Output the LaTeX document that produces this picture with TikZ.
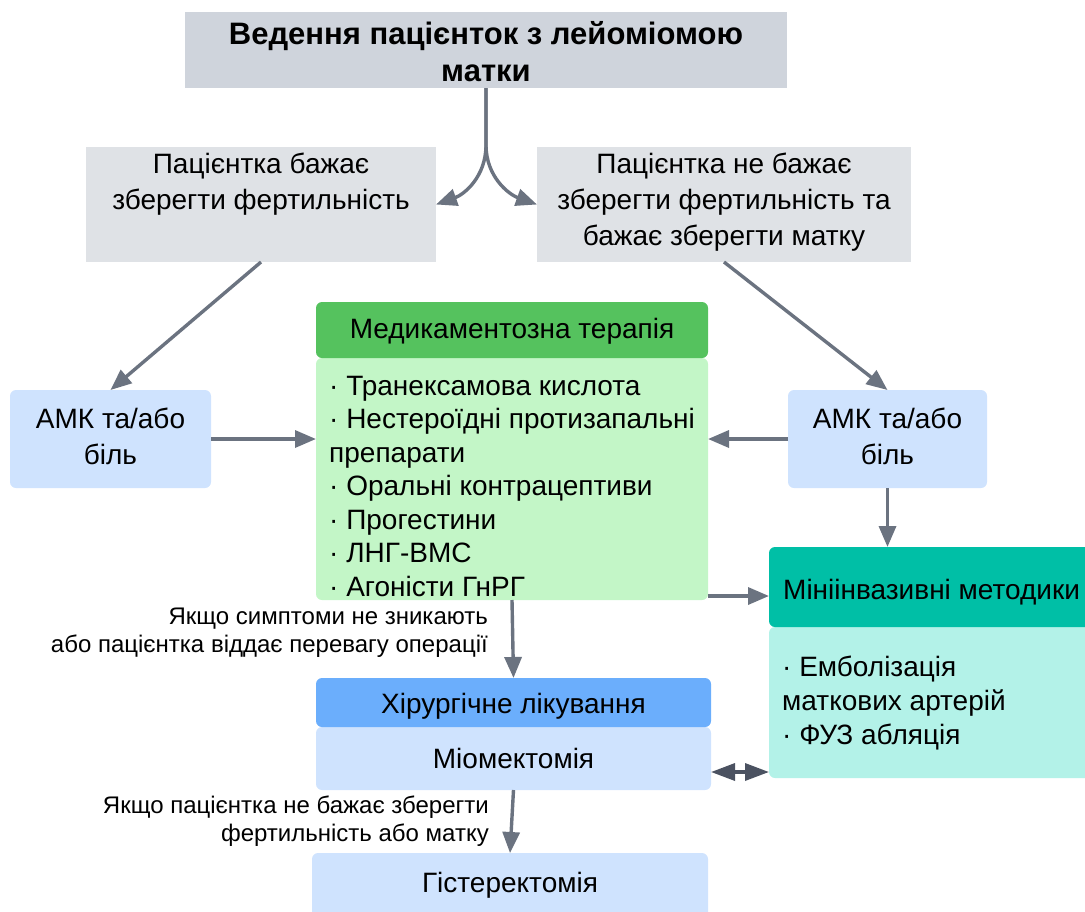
\documentclass[tikz,border=0pt]{standalone}
\usepackage{fontspec}
\setmainfont{Liberation Sans}
\usetikzlibrary{arrows.meta,calc}
\definecolor{arr}{HTML}{6B7380}
\definecolor{darr}{HTML}{4B5261}
\definecolor{titlegray}{HTML}{CFD4DC}
\definecolor{lightgray}{HTML}{DFE2E6}
\definecolor{lblue}{HTML}{CFE3FE}
\definecolor{gHead}{HTML}{55C25E}
\definecolor{gBody}{HTML}{C3F6C7}
\definecolor{tHead}{HTML}{00BFA6}
\definecolor{tBody}{HTML}{B3F2E8}
\definecolor{bHead}{HTML}{6BAEFC}
\tikzset{
  box/.style={draw=none,inner sep=0pt,outer sep=0pt},
  rbox/.style={box,rounded corners=6pt},
  txt/.style={font=\fontsize{28}{36}\selectfont,align=center,inner sep=0pt},
  lst/.style={font=\fontsize{28}{33.5}\selectfont,align=left,inner sep=0pt},
  lbl/.style={font=\fontsize{24}{28}\selectfont,align=right,inner sep=0pt,anchor=east},
  conn/.style={draw=arr,line width=3.4pt,-{Triangle[length=21pt,width=17pt]}},
  dconn/.style={draw=darr,line width=3.4pt,{Triangle[length=24pt,width=17pt]}-{Triangle[length=24pt,width=17pt]}},
}
\begin{document}
\begin{tikzpicture}[x=1pt,y=-1pt]
\useasboundingbox (0,0) rectangle (1085,911);
\begin{scope}
\clip (0,0) rectangle (1085,911);
% title
\node[box,fill=titlegray,minimum width=602pt,minimum height=76pt] (title) at (486,50) {};
\node[txt,font=\fontsize{31}{37}\selectfont\bfseries] (titleT) at (486,52) {Ведення пацієнток з лейоміомою\\матки};
% gray boxes
\node[box,fill=lightgray,minimum width=350pt,minimum height=115pt] (lg) at (261,204.5) {};
\node[txt,anchor=north] (lgT) at (261,153) {Пацієнтка бажає\\зберегти фертильність};
\node[box,fill=lightgray,minimum width=374pt,minimum height=115pt] (rg) at (724,204.5) {};
\node[txt,anchor=north] (rgT) at (724,153) {Пацієнтка не бажає\\зберегти фертильність та\\бажає зберегти матку};
% AMK boxes
\node[rbox,fill=lblue,minimum width=201pt,minimum height=98pt] (amkL) at (110.5,439) {};
\node[txt] (amkLT) at (110.5,436) {АМК та/або\\біль};
\node[rbox,fill=lblue,minimum width=199pt,minimum height=98pt] (amkR) at (887.5,439) {};
\node[txt] (amkRT) at (887.5,436) {АМК та/або\\біль};
% medication
\node[rbox,fill=gBody,minimum width=392pt,minimum height=242pt] (medB) at (512,479) {};
\node[rbox,fill=gHead,minimum width=392pt,minimum height=56pt] (medH) at (512,330) {};
\node[txt] (medHT) at (512,331) {Медикаментозна терапія};
\node[lst,anchor=north west] (medT) at (329,376) {· Транексамова кислота\\· Нестероїдні протизапальні\\препарати\\· Оральні контрацептиви\\· Прогестини\\· ЛНГ-ВМС\\· Агоністи ГнРГ};
% mini-invasive
\node[rbox,fill=tBody,minimum width=326pt,minimum height=151pt] (miniB) at (932,702.5) {};
\node[rbox,fill=tHead,minimum width=326pt,minimum height=80pt] (miniH) at (932,587) {};
\node[txt,anchor=west] (miniHT) at (783,592) {Мініінвазивні методики};
\node[lst,anchor=north west,font=\fontsize{28}{34}\selectfont] (miniT) at (782,656) {· Емболізація\\маткових артерій\\· ФУЗ абляція};
% surgery
\node[rbox,fill=lblue,minimum width=395pt,minimum height=63pt] (surgB) at (513.5,758.5) {};
\node[rbox,fill=bHead,minimum width=395pt,minimum height=49pt] (surgH) at (513.5,702.5) {};
\node[txt] (surgHT) at (513.5,706) {Хірургічне лікування};
\node[txt] (surgBT) at (513.5,758) {Міомектомія};
% hysterectomy
\node[rbox,fill=lblue,minimum width=396pt,minimum height=80pt] (hyst) at (510,893) {};
\node[txt] (hystT) at (510,885) {Гістеректомія};
\end{scope}
% labels
\node[lbl] (l1) at (488,633) {Якщо симптоми не зникають\\або пацієнтка віддає перевагу операції};
\node[lbl] (l2) at (489,821) {Якщо пацієнтка не бажає зберегти\\фертильність або матку};
% connectors
\coordinate (split) at ($(title.south)+(0,-57pt)$);
\draw[conn] (title.south) -- (split) .. controls ($(split)+(0,-32pt)$) and ($(lg.east)+(28pt,10pt)$) .. (lg.east);
\draw[conn] (title.south) -- (split) .. controls ($(split)+(0,-32pt)$) and ($(rg.west)+(-28pt,10pt)$) .. (rg.west);
\draw[conn] (lg.south) -- (amkL.north);
\draw[conn] (rg.south) -- (amkR.north);
\draw[conn] (amkL.east) -- (amkL.east -| medB.west);
\draw[conn] (amkR.west) -- (amkR.west -| medB.east);
\draw[conn] (amkR.south) -- (amkR.south |- miniH.north);
\coordinate (mm) at ([yshift=-9pt]miniH.west);
\draw[conn] (mm -| medB.east) -- (mm);
\draw[conn] (medB.south) -- (surgH.north);
\coordinate (dd) at ([yshift=-13.5pt]surgB.east);
\draw[dconn] (dd) -- (dd -| miniB.west);
\draw[conn] (surgB.south) -- (hyst.north);
\end{tikzpicture}
\end{document}
